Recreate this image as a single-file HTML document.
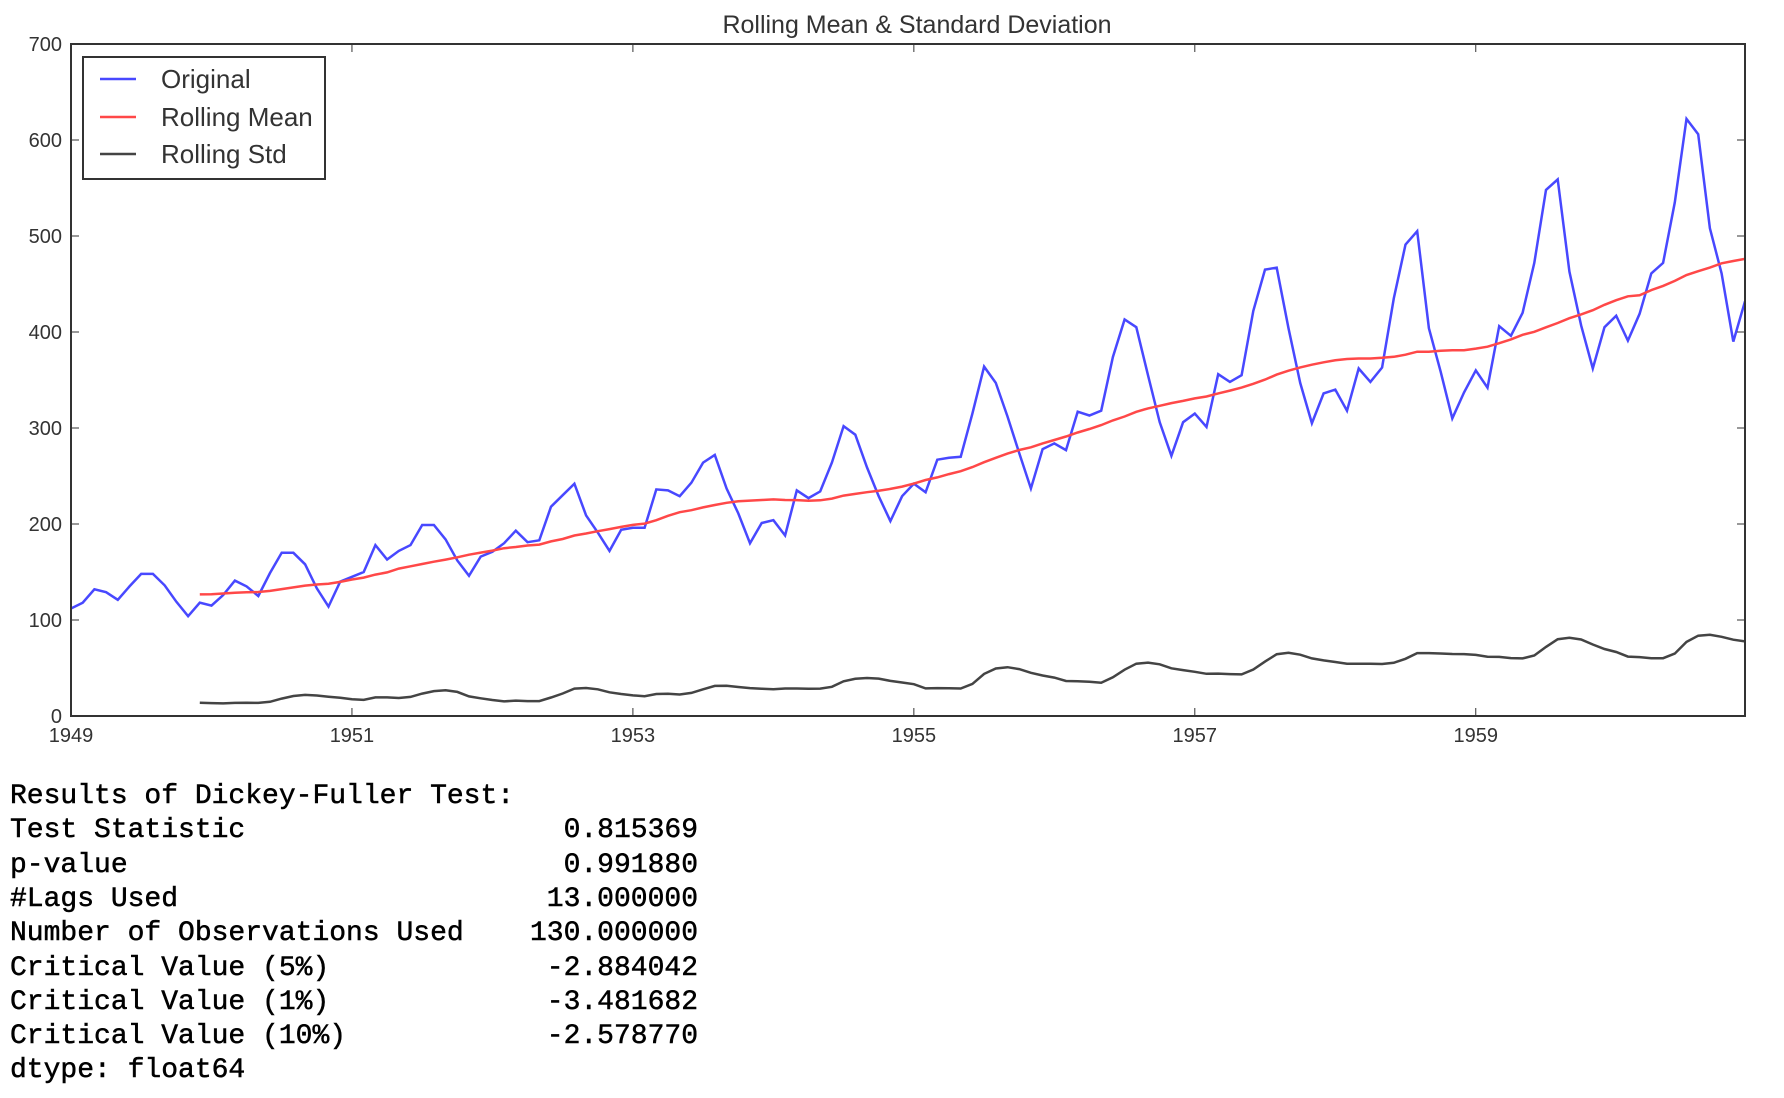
<!DOCTYPE html>
<html><head><meta charset="utf-8"><style>
body{margin:0;background:#fff;width:1784px;height:1098px;overflow:hidden;position:relative}
.t{position:absolute;font-family:"Liberation Mono",monospace;font-size:28px;color:#000;-webkit-text-stroke:0.5px #000;white-space:pre;line-height:1}
</style></head><body>
<svg id="s" width="1784" height="760" style="position:absolute;left:0;top:0" font-family="Liberation Sans, DejaVu Sans, sans-serif"></svg>
<div id="txt"></div>
<script>
var d=[112,118,132,129,121,135,148,148,136,119,104,118,115,126,141,135,125,149,170,170,158,133,114,140,145,150,178,163,172,178,199,199,184,162,146,166,171,180,193,181,183,218,230,242,209,191,172,194,196,196,236,235,229,243,264,272,237,211,180,201,204,188,235,227,234,264,302,293,259,229,203,229,242,233,267,269,270,315,364,347,312,274,237,278,284,277,317,313,318,374,413,405,355,306,271,306,315,301,356,348,355,422,465,467,404,347,305,336,340,318,362,348,363,435,491,505,404,359,310,337,360,342,406,396,420,472,548,559,463,407,362,405,417,391,419,461,472,535,622,606,508,461,390,432];
var L=71,R=1745,T=44,B=716;
function X(i){return L+i*(R-L)/143}
function Y(v){return B-v*(B-T)/700}
var o='',m=[],s=[];
for(var i=11;i<144;i++){var w=d.slice(i-11,i+1),mu=w.reduce((a,b)=>a+b)/12,v=w.reduce((a,b)=>a+(b-mu)*(b-mu),0)/11;m.push(X(i).toFixed(1)+','+Y(mu).toFixed(1));s.push(X(i).toFixed(1)+','+Y(Math.sqrt(v)).toFixed(1));}
var p=d.map((v,i)=>X(i).toFixed(1)+','+Y(v).toFixed(1));
o+='<defs><clipPath id="c"><rect x="'+L+'" y="'+T+'" width="'+(R-L)+'" height="'+(B-T)+'"/></clipPath></defs>';
o+='<g clip-path="url(#c)" fill="none" stroke-width="2.5"><polyline stroke="#4848ff" points="'+p.join(' ')+'"/><polyline stroke="#ff4848" points="'+m.join(' ')+'"/><polyline stroke="#444" points="'+s.join(' ')+'"/></g>';
o+='<rect x="'+L+'" y="'+T+'" width="'+(R-L)+'" height="'+(B-T)+'" fill="none" stroke="#333" stroke-width="2"/>';
for(var k=0;k<=700;k+=100){var y=Y(k);o+='<line x1="'+L+'" x2="'+(L+8)+'" y1="'+y+'" y2="'+y+'" stroke="#333"/><line x1="'+R+'" x2="'+(R-8)+'" y1="'+y+'" y2="'+y+'" stroke="#333"/>';o+='<text x="62" y="'+(y+7)+'" text-anchor="end" font-size="20" fill="#333">'+k+'</text>';}
for(var yr=0;yr<12;yr+=2){var x=X(yr*12);o+='<line x1="'+x+'" x2="'+x+'" y1="'+B+'" y2="'+(B-8)+'" stroke="#333"/><line x1="'+x+'" x2="'+x+'" y1="'+T+'" y2="'+(T+8)+'" stroke="#333"/>';o+='<text x="'+x+'" y="742" text-anchor="middle" font-size="20" fill="#333">'+(1949+yr)+'</text>';}
o+='<text x="917" y="33" text-anchor="middle" font-size="25" fill="#333">Rolling Mean &amp; Standard Deviation</text>';
o+='<rect x="83" y="57" width="242" height="122" fill="#fff" stroke="#333" stroke-width="2"/>';
var lg=[['#4848ff','Original',79],['#ff4848','Rolling Mean',117],['#444','Rolling Std',154]];
lg.forEach(function(g){o+='<line x1="100" x2="136" y1="'+g[2]+'" y2="'+g[2]+'" stroke="'+g[0]+'" stroke-width="2.5"/><text x="161" y="'+(g[2]+9)+'" font-size="26" fill="#333">'+g[1]+'</text>';});
document.getElementById('s').innerHTML=o;
var rows=[['Results of Dickey-Fuller Test:',''],['Test Statistic','0.815369'],['p-value','0.991880'],['#Lags Used','13.000000'],['Number of Observations Used','130.000000'],['Critical Value (5%)','-2.884042'],['Critical Value (1%)','-3.481682'],['Critical Value (10%)','-2.578770'],['dtype: float64','']];
var h='';rows.forEach(function(r,i){var top=803-20+i*34.3;h+='<div class="t" style="left:10px;top:'+top+'px">'+r[0]+'</div>';if(r[1])h+='<div class="t" style="right:'+(1784-698)+'px;top:'+top+'px;text-align:right">'+r[1]+'</div>';});
document.getElementById('txt').innerHTML=h;
</script>
</body></html>
